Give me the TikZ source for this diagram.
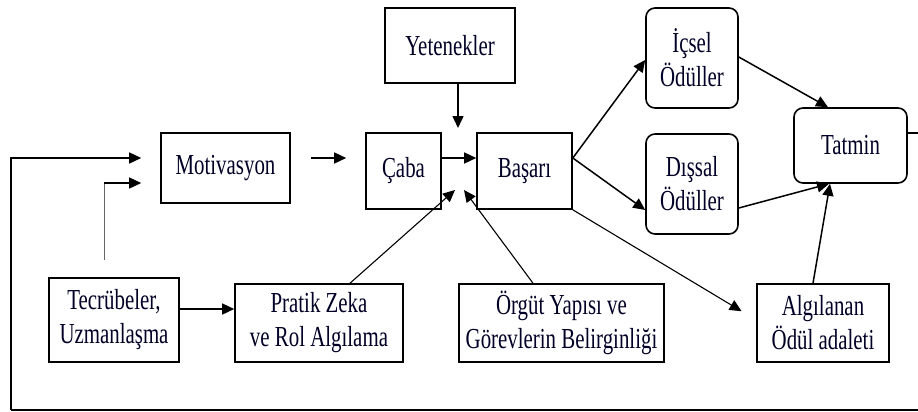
\documentclass[tikz,border=0pt]{standalone}
\usepackage{fontspec}
\setmainfont{Liberation Serif}[FakeStretch=0.72]
\usetikzlibrary{arrows.meta}
\tikzset{
  box/.style={draw, line width=1.6pt, inner sep=0pt, align=center,
    font=\fontsize{29}{34}\selectfont, text=black!85!blue},
  rbox/.style={box, rounded corners=9pt},
  conn/.style={line width=1.5pt, -{Triangle[length=12pt,width=11pt]}},
  plain/.style={line width=1.5pt}
}
\begin{document}
\begin{tikzpicture}[x=1pt,y=-1pt]
\useasboundingbox (0,0) rectangle (918,412);
\node[box, minimum width=130pt, minimum height=75pt] (yet) at (450,45.5) {Yetenekler};
\node[box, minimum width=129pt, minimum height=70pt] (mot) at (225.5,168) {Motivasyon};
\node[box, minimum width=75pt, minimum height=76pt] (caba) at (403.5,171) {Çaba};
\node[box, minimum width=95pt, minimum height=76pt] (bas) at (524.5,171) {Başarı};
\node[rbox, minimum width=92pt, minimum height=100pt] (icsel) at (692,58) {İçsel\\Ödüller};
\node[rbox, minimum width=92pt, minimum height=100pt] (dissal) at (692,184) {Dışsal\\Ödüller};
\node[rbox, minimum width=113pt, minimum height=75pt] (tatmin) at (850.5,145.5) {Tatmin};
\node[box, minimum width=130pt, minimum height=84pt] (tec) at (114,320) {Tecrübeler,\\Uzmanlaşma};
\node[box, minimum width=168pt, minimum height=78pt] (pratik) at (319,323) {Pratik Zeka\\ve Rol Algılama};
\node[box, minimum width=205pt, minimum height=78pt] (orgut) at (561.5,323) {Örgüt Yapısı ve\\Görevlerin Belirginliği};
\node[box, minimum width=132pt, minimum height=78pt] (alg) at (823,323) {Algılanan\\Ödül adaleti};

\coordinate (fbR) at (918,133);
\coordinate (fbRB) at (918,410);
\coordinate (fbLB) at (11,410);
\coordinate (fbLT) at (11,158);
\coordinate (tecUp) at (104,260);
\coordinate (tecTurn) at (104,183);

\draw[plain] (tatmin.east |- fbR) -- (fbR);
\draw[plain] (fbRB) -- (fbLB);
\draw[conn, shorten >=19pt] (fbLB) -- (fbLT) -- (mot.west |- fbLT);
\draw[line width=0.8pt, black!60] (tecUp) -- (tecTurn);
\draw[conn, shorten >=19pt] (tecTurn) -- (mot.west |- tecTurn);
\draw[conn, shorten <=20pt, shorten >=19pt] (mot.east |- fbLT) -- (caba.west |- fbLT);
\draw[conn] (caba.east |- fbLT) -- (bas.west |- fbLT);
\draw[conn, shorten >=5pt] (yet.south -| 458,0) -- (458,133);
\draw[conn, line width=1.1pt] (pratik.north -| 350,0) -- (455,190);
\draw[conn, line width=1.1pt] (orgut.north -| 533,0) -- (464,190);
\draw[conn] (bas.east |- fbLT) -- (icsel.west |- 0,60);
\draw[conn] (bas.east |- fbLT) -- (dissal.west |- 0,210);
\draw[conn] (icsel.east |- 0,57) -- (tatmin.north -| 828,0);
\draw[conn] (dissal.east |- 0,208) -- (tatmin.south -| 829,0);
\draw[conn] (alg.north -| 813,0) -- (tatmin.south -| 830,0);
\draw[conn, line width=1.1pt, shorten >=17pt] (bas.south east) -- (alg.west |- 0,320);
\draw[conn] (tec.east |- 0,309) -- (pratik.west |- 0,309);
\end{tikzpicture}
\end{document}
